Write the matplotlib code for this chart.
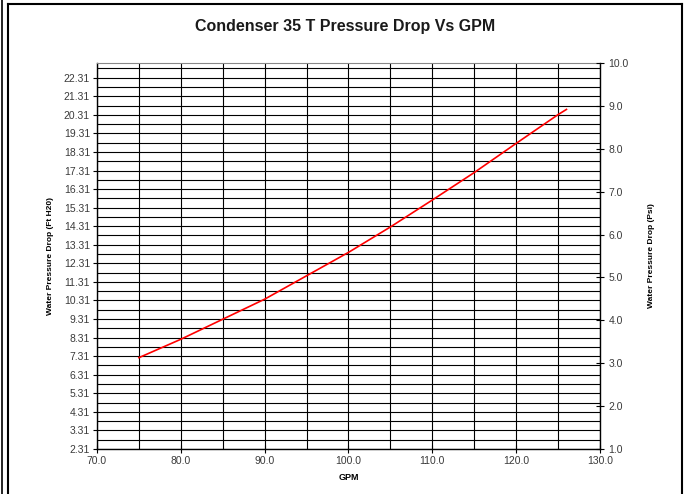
import matplotlib
matplotlib.use("Agg")
import matplotlib.pyplot as plt
from matplotlib.lines import Line2D
import numpy as np

# Data
gpm = [75, 80, 85, 90, 95, 100, 105, 110, 115, 120, 125, 126]
ft_h2o = [7.23, 8.22, 9.30, 10.38, 11.64, 12.90, 14.27, 15.72, 17.20, 18.77, 20.32, 20.60]

x_ticks = [70.0, 80.0, 90.0, 100.0, 110.0, 120.0, 130.0]
x_grid = [75, 85, 95, 105, 115, 125]
left_ticks = [2.31 + k for k in range(21)]
left_minor = [2.81 + k for k in range(21)]
right_ticks = [1.0, 2.0, 3.0, 4.0, 5.0, 6.0, 7.0, 8.0, 9.0, 10.0]
PSI_TO_FT = 2.31

plt.rcParams['font.family'] = ['Liberation Sans', 'DejaVu Sans']

fig = plt.figure(figsize=(6.88, 4.94), dpi=100)
ax = fig.add_axes([97/688, 1-449/494, (600-97)/688, (449-63)/494])

ax.plot(gpm, ft_h2o, color='#ff0000', lw=1.2, zorder=5)

ax.set_xlim(70, 130)
ax.set_ylim(2.31, 10*PSI_TO_FT)

ax.set_xticks(x_ticks)
ax.set_xticklabels([f"{v:.1f}" for v in x_ticks])
ax.set_xticks(x_grid, minor=True)
ax.set_yticks(left_ticks)
ax.set_yticklabels([f"{v:.2f}" for v in left_ticks])
ax.set_yticks([v for v in left_minor if v < 10*PSI_TO_FT], minor=True)

ax.grid(True, which='both', axis='both', color='black', lw=0.8)
ax.set_axisbelow(True)

lab_col = '#3a3a3a'
ax.tick_params(axis='both', which='major', labelsize=7.5, labelcolor=lab_col,
               color='black', length=4, width=0.8, direction='out', pad=2)
ax.tick_params(axis='y', which='major', direction='out', length=3)
ax.tick_params(axis='x', which='major', direction='inout', length=6)
ax.tick_params(which='minor', length=0)

for s in ['left', 'bottom', 'right']:
    ax.spines[s].set_color('black')
    ax.spines[s].set_linewidth(1.0)
ax.spines['top'].set_color('#888888')
ax.spines['top'].set_linewidth(0.8)

ax.set_xlabel('GPM', fontsize=6.5, fontweight='bold', labelpad=5)
ax.set_ylabel('Water Pressure Drop (Ft H20)', fontsize=6, fontweight='bold', labelpad=7)

ax2 = ax.twinx()
ax2.set_ylim(1.0, 10.0)
ax2.set_yticks(right_ticks)
ax2.set_yticklabels([f"{v:.1f}" for v in right_ticks])
ax2.tick_params(axis='y', labelsize=7.5, labelcolor=lab_col, direction='inout',
                length=6, width=0.8, pad=3)
for s in ax2.spines.values():
    s.set_visible(False)
ax2.set_ylabel('Water Pressure Drop (Psi)', fontsize=6, fontweight='bold', labelpad=14)

fig.text(345/688, 1-27/494, 'Condenser 35 T Pressure Drop Vs GPM', ha='center', va='center',
         fontsize=11.5, fontweight='bold', color='#1a1a1a')

# Outer frame
def fline(x0, y0, x1, y1, lw=1.5):
    fig.add_artist(Line2D([x0/688, x1/688], [1-y0/494, 1-y1/494],
                          transform=fig.transFigure, color='black', lw=lw))

fline(8, 4, 8, 494)
fline(8, 4, 682, 4)
fline(682, 4, 682, 494)
fline(2, 0, 2, 494, lw=1.2)

fig.savefig('out.png', dpi=100)
